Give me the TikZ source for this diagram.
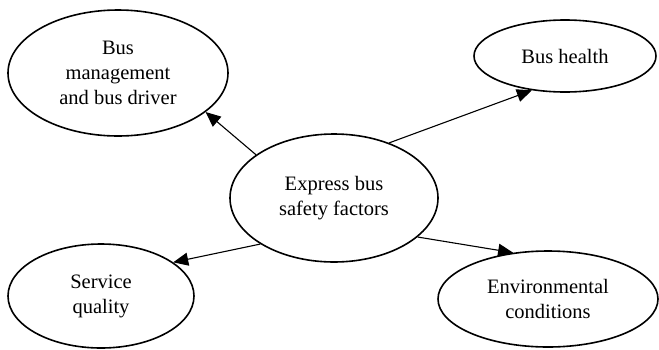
\documentclass[tikz,border=0pt]{standalone}
\usepackage{fontspec}
\setmainfont{Liberation Serif}
\usetikzlibrary{shapes.geometric,arrows.meta}
\begin{document}
\begin{tikzpicture}[x=1pt, y=-1pt,
  factor/.style={ellipse, draw=black, line width=1.6pt, inner sep=0pt, align=center,
    font=\fontsize{20.5}{25}\selectfont},
  link/.style={-{Triangle[length=15pt,width=13pt]}, line width=1.1pt}]
\useasboundingbox (0,0) rectangle (659,349);
\node [factor, minimum width=208pt, minimum height=128pt] (core) at (334,198) {Express bus\\safety factors};
\node [factor, minimum width=220pt, minimum height=126pt] (driver) at (118,73) {Bus\\management\\and bus driver};
\node [factor, minimum width=182pt, minimum height=72pt] (health) at (565,56) {Bus health};
\node [factor, minimum width=186pt, minimum height=104pt] (service) at (101,296) {Service\\quality};
\node [factor, minimum width=220pt, minimum height=96pt] (env) at (548,299) {Environmental\\conditions};
\draw [link] (core.151) -- (driver.336);
\draw [link] (core.45) -- (health.226);
\draw [link] (core.212) -- (service.25);
\draw [link] (core.335) -- (env.127);
\end{tikzpicture}
\end{document}
